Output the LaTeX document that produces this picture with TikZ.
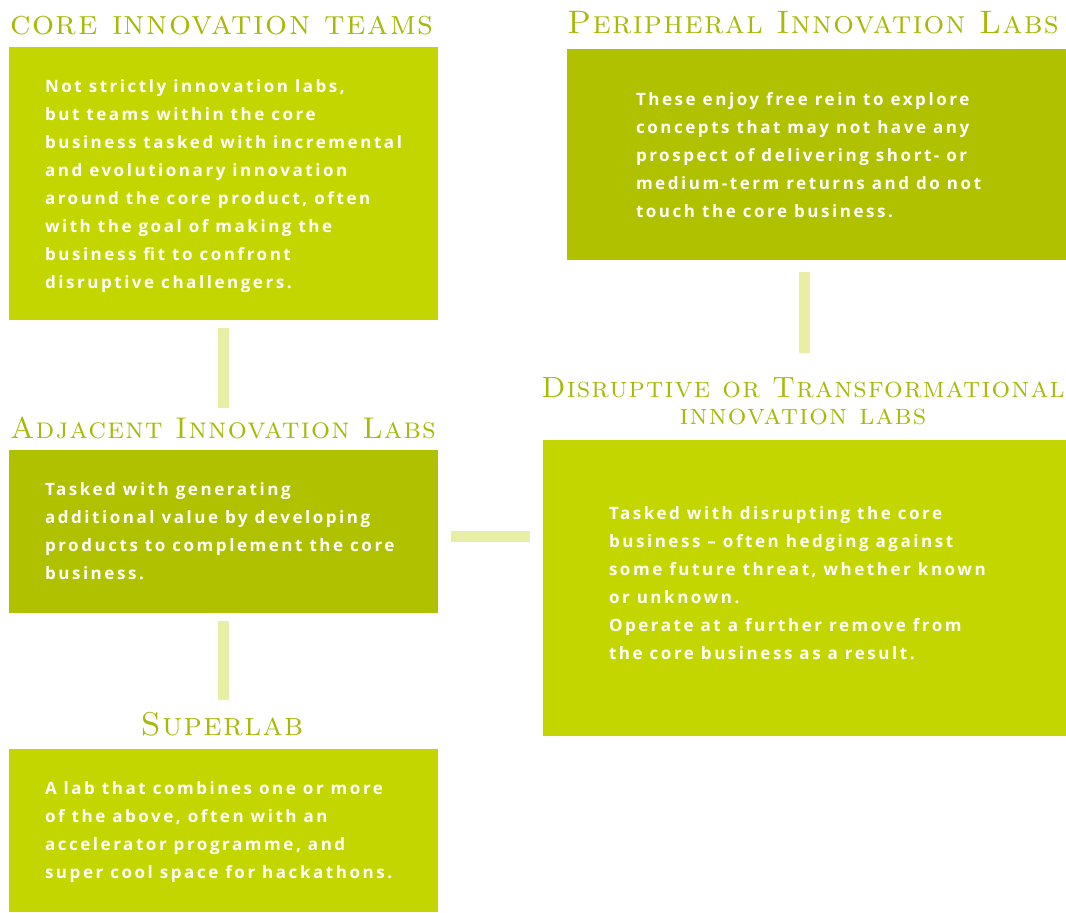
\documentclass[tikz,border=0pt]{standalone}
\usepackage{fontspec}
\usetikzlibrary{positioning}

\newfontfamily\bodyfont[LetterSpace=15]{Open Sans}
\newfontfamily\capsfont[LetterSpace=4]{lmromancaps10-regular.otf}

\definecolor{limebox}{HTML}{C4D600}
\definecolor{olivebox}{HTML}{B0C100}
\definecolor{headline}{HTML}{A8B908}
\definecolor{linkbar}{HTML}{E8EEA6}

\begin{document}
\begin{tikzpicture}[x=1pt, y=-1pt,
  labbox/.style={fill=#1, draw=none, inner sep=0pt},
  labtext/.style={anchor=west, align=left, inner sep=0pt, text=white,
    font=\bodyfont\bfseries\fontsize{17}{28}\selectfont},
  labtitle/.style={anchor=base, align=center, inner sep=0pt, text=headline,
    font=\capsfont\fontsize{#1}{27}\selectfont},
  linkbar/.style={draw=linkbar, line width=11pt}]

\useasboundingbox (0,0) rectangle (1066,913);

% boxes
\node[labbox=limebox, minimum width=429pt, minimum height=273pt] (core) at (223.5,183.5) {};
\node[labbox=olivebox, minimum width=429pt, minimum height=163pt] (adj) at (223.5,531.5) {};
\node[labbox=limebox, minimum width=429pt, minimum height=163pt] (super) at (223.5,830.5) {};
\node[labbox=olivebox, minimum width=499pt, minimum height=211pt] (peri) at (816.5,154.5) {};
\node[labbox=limebox, minimum width=523pt, minimum height=296pt] (disr) at (804.5,588) {};

% titles
\node[labtitle=34.7] (coreTitle) at (222,34) {core innovation teams};
\node[labtitle=32.5] (periTitle) at (813,33) {Peripheral Innovation Labs};
\node[labtitle=30] (adjTitle) at (223,438) {Adjacent Innovation Labs};
\node[labtitle=33] (superTitle) at (222,735) {Superlab};
\node[labtitle=29.3] (disrTitle) at (803,424) {Disruptive or Transformational\\innovation labs};

% texts
\node[labtext] (coreText) at ([xshift=36pt, yshift=-3pt]core.west) {Not strictly innovation labs,\\
but teams within the core\\
business tasked with incremental\\
and evolutionary innovation\\
around the core product, often\\
with the goal of making the\\
business fit to confront\\
disruptive challengers.};
\node[labtext] (periText) at ([xshift=69pt, yshift=-1pt]peri.west) {These enjoy free rein to explore\\
concepts that may not have any\\
prospect of delivering short- or\\
medium-term returns and do not\\
touch the core business.};
\node[labtext] (adjText) at ([xshift=36pt]adj.west) {Tasked with generating\\
additional value by developing\\
products to complement the core\\
business.};
\node[labtext] (disrText) at ([xshift=66pt, yshift=5pt]disr.west) {Tasked with disrupting the core\\
business – often hedging against\\
some future threat, whether known\\
or unknown.\\
Operate at a further remove from\\
the core business as a result.};
\node[labtext] (superText) at ([xshift=36pt, yshift=-2pt]super.west) {A lab that combines one or more\\
of the above, often with an\\
accelerator programme, and\\
super cool space for hackathons.};

% links
\draw[linkbar, shorten <=8pt, shorten >=42pt] (core.south) -- (adj.north);
\draw[linkbar, shorten <=8pt, shorten >=49pt] (adj.south) -- (super.north);
\draw[linkbar, shorten <=13pt, shorten >=13pt] ([yshift=-4.5pt]adj.east) -- ([yshift=-4.5pt]adj.east -| disr.west);
\draw[linkbar, shorten <=12pt, shorten >=87pt] (disr.north |- peri.south) -- (disr.north);
\end{tikzpicture}
\end{document}
